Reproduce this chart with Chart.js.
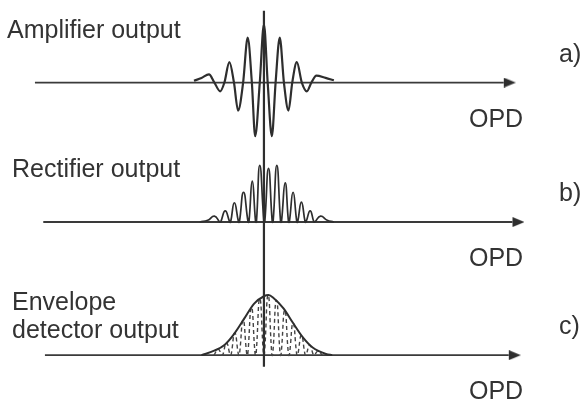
<!DOCTYPE html>
<html>
<head>
<meta charset="utf-8">
<script src="https://cdn.jsdelivr.net/npm/chart.js@4.4.1/dist/chart.umd.min.js"></script>
<style>
  html, body { margin: 0; padding: 0; background: #fff; }
</style>
</head>
<body>
<canvas id="fig" width="582" height="410"></canvas>
<script>
// OPD in half-fringe units, signal in arbitrary units (centre peak ~100)
const ampOpd = [-8.4, -7.5, -6.6, -5.95, -5.25, -4.75, -4.15, -3.6, -3.1, -2.5, -1.95, -1.45, -1.05, -0.5, 0,
    0.45, 0.95, 1.4, 1.9, 2.4, 2.95, 3.4, 3.95, 4.55, 5.15, 5.7, 6.3, 7.4, 8.4]
const ampSignal = [3, 8, 14, 0, -15, 0, 35, 0, -48, 0, 77, 0, -92, 0, 100,
    0, -92, 0, 77, 0, -48, 0, 35, 0, -15, 0, 12, 8, 4]

// rectified: each valley read as a narrow floor (two points)
const rectOpd = [-7.7, -6.75, -5.95, -5.3, -5.2, -4.65, -4.1, -4.0, -3.55, -3.05, -2.95, -2.45, -1.9, -1.8,
    -1.4, -1.0, -0.9, -0.5, 0.0, 0.1, 0.55, 1.0, 1.1, 1.55, 2.0, 2.1, 2.55, 2.95, 3.05, 3.5, 3.95, 4.05,
    4.5, 4.95, 5.05, 5.55, 6.0, 6.1, 6.8, 7.6, 8.4]
const rectSignal = [0, 3, 10, 0, 0, 19, 0, 0, 33, 0, 0, 51, 0, 0,
    70, 0, 0, 97, 0, 0, 92, 0, 0, 97, 0, 0, 67, 0, 0, 51, 0, 0,
    34, 0, 0, 19, 0, 0, 10, 3, 0]

const envOpd = [-7.5, -5.9, -4.7, -3.55, -2.35, -1.2, 0, 0.55, 1.15, 2.35, 3.5, 4.7, 5.85, 7.45, 8.2]
const envSignal = [0, 8, 18, 37, 63, 88, 101, 103, 98, 80, 55, 30, 13, 2, 0]

const innerOpd = [-6, -5.5, -5.05, -4.95, -4.5, -4.05, -3.95, -3.5, -3.05, -2.95, -2.5, -2.05, -1.95,
    -1.5, -1.05, -0.95, -0.5, -0.05, 0.05, 0.5, 0.95, 1.05, 1.5, 1.95, 2.05, 2.5, 2.95, 3.05, 3.5,
    3.95, 4.05, 4.5, 4.95, 5.05, 5.5, 5.95, 6.05, 6.5, 7]
const innerSignal = [0, 10, 0, 0, 21, 0, 0, 38, 0, 0, 60, 0, 0,
    82, 0, 0, 97, 0, 0, 103, 0, 0, 94, 0, 0, 77, 0, 0, 55,
    0, 0, 34, 0, 0, 17, 0, 0, 7, 0]

const panelTitles = [['Amplifier output'], ['Rectifier output'], ['Envelope', 'detector output']]
const panelTags = ['a)', 'b)', 'c)']
const axisName = 'OPD'

// layout
const OPD_MIN = -31
const OPD_MAX = 37.5
const PX_PER_UNIT = 0.6
const CANVAS_H = 410
const baselinePx = [79, 222.5, 359.5]
const axisFrom = [-27.5, -26.5, -26.3]
const axisTo = [28.8, 29.85, 29.4]
const titleX = [7, 12, 12]
const ink = '#2e2e2e'

function arrowHead(len, half) {
    const c = document.createElement('canvas')
    c.width = len * 2
    c.height = half * 2
    const g = c.getContext('2d')
    g.fillStyle = ink
    g.beginPath()
    g.moveTo(len, 0)
    g.lineTo(len * 2, half)
    g.lineTo(len, half * 2)
    g.closePath()
    g.fill()
    return c
}
const arrow = arrowHead(12, 5)

function toPoints(xs, ys) {
    return xs.map((x, i) => ({ x: x, y: ys[i] }))
}

const yScales = {}
const axisIds = ['ya', 'yb', 'yc']
axisIds.forEach((id, i) => {
    const max = baselinePx[i] / PX_PER_UNIT
    yScales[id] = {
        type: 'linear',
        display: false,
        max: max,
        min: max - CANVAS_H / PX_PER_UNIT
    }
})

const axisSets = axisIds.map((id, i) => ({
    label: 'axis ' + panelTags[i],
    yAxisID: id,
    data: [{ x: axisFrom[i], y: 0 }, { x: axisTo[i], y: 0 }],
    borderColor: '#3a3a3a',
    borderWidth: 1.8,
    pointRadius: [0, 4],
    pointStyle: ctx => ctx.dataIndex === 1 ? arrow : 'circle'
}))

const annotate = {
    id: 'annotate',
    afterDatasetsDraw(chart) {
        const { ctx, scales } = chart
        const x0 = scales.x.getPixelForValue(0)
        ctx.save()
        ctx.strokeStyle = ink
        ctx.lineWidth = 2.2
        ctx.beginPath()
        ctx.moveTo(x0, scales.ya.getPixelForValue(123))
        ctx.lineTo(x0, scales.yc.getPixelForValue(-20))
        ctx.stroke()

        ctx.fillStyle = '#333'
        ctx.font = '25px "Liberation Sans", Arial, sans-serif'
        ctx.textBaseline = 'alphabetic'
        axisIds.forEach((id, i) => {
            const base = scales[id].getPixelForValue(0)
            panelTitles[i].forEach((line, j) => {
                ctx.fillText(line, titleX[i], base - 45 + j * 28)
            })
            ctx.fillText(panelTags[i], 559, base - 21)
            ctx.fillText(axisName, 469, base + 44)
        })
        ctx.restore()
    }
}

new Chart(document.getElementById('fig'), {
    type: 'line',
    data: {
        datasets: [
            {
                label: 'Amplifier output',
                yAxisID: 'ya',
                data: toPoints(ampOpd, ampSignal),
                borderColor: ink,
                borderWidth: 2.2,
                pointRadius: 0,
                cubicInterpolationMode: 'monotone'
            },
            {
                label: 'Rectifier output',
                yAxisID: 'yb',
                data: toPoints(rectOpd, rectSignal),
                borderColor: ink,
                borderWidth: 1.7,
                pointRadius: 0,
                tension: 0.5
            },
            {
                label: 'Envelope',
                yAxisID: 'yc',
                data: toPoints(envOpd, envSignal),
                borderColor: ink,
                borderWidth: 2,
                pointRadius: 0,
                cubicInterpolationMode: 'monotone'
            },
            {
                label: 'Rectified (dashed)',
                yAxisID: 'yc',
                data: toPoints(innerOpd, innerSignal),
                borderColor: '#444',
                borderWidth: 1.4,
                borderDash: [4, 3],
                pointRadius: 0,
                tension: 0.5
            },
            ...axisSets
        ]
    },
    options: {
        responsive: false,
        animation: false,
        layout: { padding: 0 },
        plugins: {
            legend: { display: false },
            tooltip: { enabled: false }
        },
        scales: {
            x: { type: 'linear', display: false, min: OPD_MIN, max: OPD_MAX },
            ...yScales
        }
    },
    plugins: [annotate]
})
</script>
</body>
</html>
